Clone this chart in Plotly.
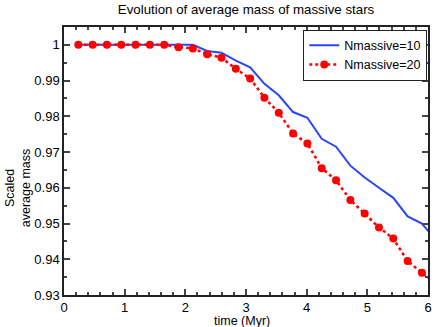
import plotly.graph_objects as go

# time samples (Myr)
time = [0.236 * k for k in range(1, 27)]
n10 = [1.0, 1.0, 1.0, 1.0, 1.0, 1.0, 1.0, 1.0, 1.0, 0.9983, 0.9978, 0.9956, 0.9937,
       0.9891, 0.9859, 0.9812, 0.9796, 0.9737, 0.9715, 0.9662, 0.9629, 0.9600,
       0.9572, 0.9520, 0.9500, 0.9452]
n20 = [1.0, 1.0, 1.0, 1.0, 1.0, 1.0, 1.0, 0.99935, 0.9990, 0.9974, 0.9964, 0.9933,
       0.9906, 0.9852, 0.9810, 0.9752, 0.9724, 0.9655, 0.9621, 0.9566, 0.9528,
       0.9489, 0.9458, 0.9395, 0.9362, 0.9330]

xticks = [0, 1, 2, 3, 4, 5, 6]
yticks = [0.93, 0.94, 0.95, 0.96, 0.97, 0.98, 0.99, 1.0]
yticklabels = ["0.93", "0.94", "0.95", "0.96", "0.97", "0.98", "0.99", "1"]

font = "Liberation Sans, Arial, sans-serif"

fig = go.Figure()
fig.add_trace(go.Scatter(x=time, y=n10, mode="lines", name="Nmassive=10",
                         line=dict(color="#2a45ff", width=2)))
fig.add_trace(go.Scatter(x=time, y=n20, mode="lines+markers", name="Nmassive=20",
                         line=dict(color="#ff0000", width=2.5, dash="dot"),
                         marker=dict(color="#ff0000", size=8)))

axis_common = dict(showgrid=False, zeroline=False, showline=True, linecolor="#222",
                   linewidth=1.5, mirror="ticks", ticks="inside", ticklen=6,
                   tickcolor="#444", tickwidth=1.5, automargin=False,
                   tickfont=dict(family=font, size=13, color="black"))

fig.update_layout(
    width=437, height=327,
    margin=dict(l=64, r=9, t=27, b=32),
    paper_bgcolor="white", plot_bgcolor="white",
    title=dict(text="Evolution of average mass of massive stars", xref="paper", x=0.5,
               xanchor="center", y=0.985, yanchor="top",
               font=dict(family=font, size=13.3, color="black")),
    xaxis=dict(range=[0, 6], tickvals=xticks, ticktext=[str(v) for v in xticks],
               minor=dict(ticks="inside", ticklen=3, tickcolor="#444", dtick=0.2, tick0=0),
               **axis_common),
    yaxis=dict(range=[0.93, 1.005], tickvals=yticks, ticktext=yticklabels,
               minor=dict(ticks="inside", ticklen=3, tickcolor="#444", dtick=0.005, tick0=0.93),
               **axis_common),
    legend=dict(x=0.998, xanchor="right", y=0.99, yanchor="top", bgcolor="white",
                bordercolor="#222", borderwidth=1, tracegroupgap=0,
                font=dict(family=font, size=12.5, color="black"), itemwidth=30),
    showlegend=True,
)
fig.add_annotation(text="time (Myr)", xref="paper", yref="paper",
                   x=0.49, y=-0.098, showarrow=False, xanchor="center", yanchor="middle",
                   font=dict(family=font, size=12.5, color="black"))
fig.add_annotation(text="Scaled<br>average mass", xref="paper", yref="paper",
                   x=-0.128, y=0.4, textangle=-90, showarrow=False, xanchor="center",
                   yanchor="middle", font=dict(family=font, size=12.5, color="black"))

fig.write_html("out.html", config={"displayModeBar": False},
               post_script="document.body.style.margin='0';")
